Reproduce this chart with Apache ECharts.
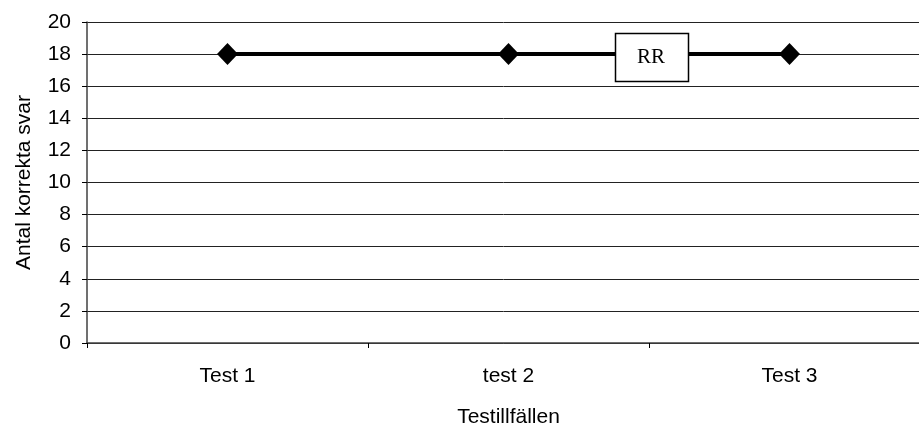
<!DOCTYPE html>
<html>
<head>
<meta charset="utf-8">
<script src="https://cdn.jsdelivr.net/npm/echarts@6/dist/echarts.min.js"></script>
<style>
  html, body { margin: 0; padding: 0; background: #fff; overflow: hidden; }
  #chart { width: 919px; height: 425px; }
</style>
</head>
<body>
<div id="chart"></div>
<script>
// Test occasions and number of correct answers for respondent RR
const categories = ['Test 1', 'test 2', 'Test 3'];
const correctAnswers = [18, 18, 18];
const seriesName = 'RR';
const yTitle = 'Antal korrekta svar';
const xTitle = 'Testillfällen';
const yMin = 0, yMax = 20, yStep = 2;

const chart = echarts.init(document.getElementById('chart'), null, { renderer: 'canvas' });
const sans = '"Liberation Sans", Arial, sans-serif';
const fs = 21;

chart.setOption({
  animation: false,
  backgroundColor: '#ffffff',
  // plot area runs a little past the right edge of the canvas
  grid: { left: 87, top: 22, height: 321, width: 843, containLabel: false, outerBoundsMode: 'none' },
  xAxis: {
    type: 'category',
    data: categories,
    boundaryGap: true,
    name: xTitle,
    nameLocation: 'middle',
    nameGap: 64,
    nameTextStyle: { color: '#000', fontSize: fs, fontFamily: sans },
    axisLine: { show: true, lineStyle: { color: '#404040', width: 1.5 } },
    axisTick: { show: true, alignWithLabel: false, interval: 0, length: 5, lineStyle: { color: '#000', width: 1 } },
    axisLabel: { color: '#000', fontSize: fs, fontFamily: sans, margin: 23 },
    splitLine: { show: false }
  },
  yAxis: {
    type: 'value',
    min: yMin,
    max: yMax,
    interval: yStep,
    name: yTitle,
    nameLocation: 'middle',
    nameGap: 52,
    nameRotate: 90,
    nameTextStyle: { color: '#000', fontSize: fs, fontFamily: sans },
    axisLine: { show: true, lineStyle: { color: '#404040', width: 1.5 } },
    axisTick: { show: true, inside: false, length: 5, lineStyle: { color: '#000', width: 1 } },
    axisLabel: { color: '#000', fontSize: fs, fontFamily: sans, margin: 16 },
    splitLine: { show: true, lineStyle: { color: '#222', width: 1 } }
  },
  series: [{
    name: seriesName,
    type: 'line',
    data: correctAnswers,
    symbol: 'diamond',
    symbolSize: [21, 22],
    showAllSymbol: true,
    itemStyle: { color: '#000' },
    lineStyle: { color: '#000', width: 4 },
    z: 3
  }]
});

// Series name box, placed on the line between the second and third test
function placeSeriesBox() {
  const p1 = chart.convertToPixel({ xAxisIndex: 0, yAxisIndex: 0 }, [1, correctAnswers[1]]);
  const p2 = chart.convertToPixel({ xAxisIndex: 0, yAxisIndex: 0 }, [2, correctAnswers[2]]);
  const cx = (p1[0] + p2[0]) / 2 + 3;
  const cy = (p1[1] + p2[1]) / 2 + 3.5;
  const w = 73, h = 48;
  chart.setOption({
    graphic: [{
      type: 'group',
      x: cx, y: cy,
      zlevel: 1,
      z: 100,
      children: [
        {
          type: 'rect',
          z: 100,
          shape: { x: -w / 2, y: -h / 2, width: w, height: h },
          style: { fill: '#fff', stroke: '#000', lineWidth: 1.5 }
        },
        {
          type: 'text',
          z: 101,
          x: -1, y: 0,
          style: {
            text: seriesName,
            fill: '#000',
            font: '21px "Liberation Serif", "Times New Roman", serif',
            textAlign: 'center',
            textVerticalAlign: 'middle'
          }
        }
      ]
    }]
  });
}
placeSeriesBox();
</script>
</body>
</html>
